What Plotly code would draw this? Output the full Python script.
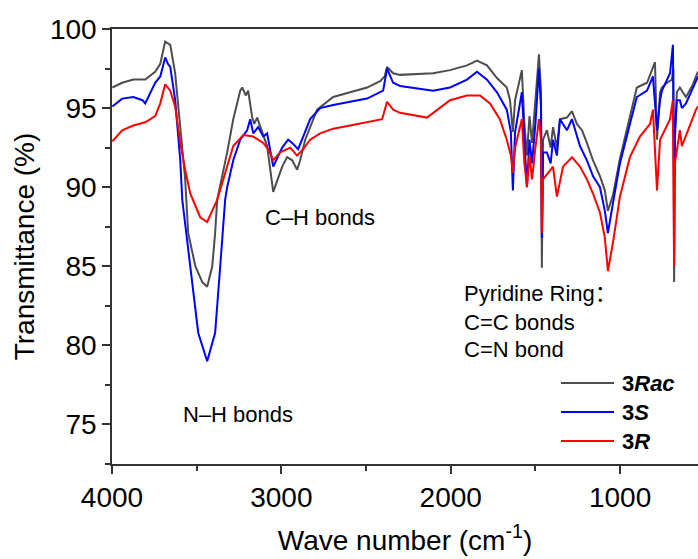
import plotly.graph_objects as go

# ---- data (wavenumber cm-1, transmittance %) ----
rac_wn = [3998, 3940, 3874, 3804, 3745, 3715, 3686, 3656, 3627, 3597, 3568, 3550, 3508, 3467, 3438,
          3408, 3391, 3379, 3373, 3320, 3284, 3243, 3231, 3210, 3196, 3172, 3160, 3143, 3130, 3084,
          3048, 2995, 2966, 2936, 2907, 2889, 2859, 2789, 2694, 2594, 2494, 2417, 2390, 2376, 2340,
          2299, 2104, 2004, 1904, 1845, 1786, 1727, 1669, 1650, 1633, 1620, 1580, 1565, 1550, 1535,
          1520, 1500, 1479, 1467, 1462, 1455, 1432, 1410, 1396, 1373, 1355, 1314, 1284, 1255, 1225,
          1196, 1160, 1119, 1090, 1072, 1042, 1001, 942, 901, 841, 794, 782, 764, 753, 723, 694, 686,
          681, 676, 665, 647, 611, 570, 552, 540]
rac_t = [96.3, 96.6, 96.8, 96.8, 97.3, 97.8, 99.2, 99.0, 97.2, 93.8, 90.5, 87.1, 85.0, 84.0, 83.7,
         85.0, 87.1, 89.2, 89.5, 92.2, 94.3, 96.1, 96.3, 95.8, 96.1, 94.4, 94.0, 94.4, 94.0, 92.6,
         89.7, 91.3, 91.9, 91.7, 91.1, 91.7, 93.0, 94.9, 95.7, 96.0, 96.3, 96.7, 97.0, 97.6, 97.2,
         97.1, 97.2, 97.4, 97.7, 98.0, 97.7, 96.9, 96.3, 95.5, 93.5, 95.5, 97.4, 94.0, 92.0, 94.5,
         92.8, 95.5, 98.4, 96.0, 84.9, 93.0, 93.6, 92.5, 93.8, 92.5, 94.3, 94.4, 94.8, 94.0, 93.6,
         92.8, 91.7, 90.7, 89.8, 88.5, 89.5, 91.8, 94.4, 96.3, 96.6, 97.9, 93.0, 96.0, 96.3, 96.6, 96.8, 97.5,
         84.0, 93.0, 96.0, 96.3, 95.7, 96.5, 97.0, 97.3]

s_wn = [3998, 3940, 3874, 3820, 3804, 3790, 3745, 3715, 3686, 3670, 3656, 3627, 3597, 3585, 3538,
        3491, 3438, 3391, 3361, 3332, 3320, 3284, 3243, 3202, 3184, 3166, 3137, 3107, 3084, 3048,
        2995, 2960, 2936, 2901, 2871, 2830, 2771, 2694, 2594, 2494, 2399, 2376, 2340, 2299, 2104,
        2004, 1904, 1845, 1786, 1727, 1669, 1645, 1633, 1620, 1580, 1565, 1550, 1535, 1520, 1500,
        1479, 1467, 1462, 1455, 1432, 1410, 1396, 1373, 1355, 1314, 1284, 1237, 1196, 1160, 1119,
        1090, 1072, 1042, 1001, 942, 901, 841, 806, 782, 764, 753, 705, 688, 681, 676, 665, 647,
        635, 611, 570, 552, 540]
s_t = [95.1, 95.6, 95.7, 95.5, 95.3, 95.6, 96.6, 97.0, 98.2, 97.8, 97.6, 95.5, 91.7, 89.2, 85.0,
       80.8, 79.0, 80.8, 85.0, 89.2, 90.0, 91.7, 93.0, 93.6, 94.3, 93.4, 93.8, 93.2, 93.4, 91.3,
       92.5, 93.0, 92.8, 92.4, 93.2, 94.3, 95.0, 95.2, 95.4, 95.6, 96.1, 97.5, 96.6, 96.4, 96.1,
       96.3, 96.8, 97.3, 96.8, 96.0, 94.9, 93.5, 89.8, 93.5, 96.0, 92.5, 90.0, 93.0, 91.5, 94.0,
       97.5, 95.0, 86.8, 92.2, 92.2, 91.5, 93.0, 92.0, 94.3, 93.6, 94.3, 92.6, 91.7, 90.7, 90.0,
       88.5, 87.1, 89.0, 91.5, 94.0, 95.7, 96.1, 97.0, 93.6, 95.5, 96.1, 97.2, 99.0, 90.0, 93.5,
       95.5, 95.5, 95.0, 95.3, 96.3, 96.8, 97.0]

r_wn = [3998, 3940, 3874, 3804, 3745, 3715, 3686, 3656, 3627, 3597, 3568, 3538, 3479, 3438, 3379,
        3320, 3284, 3225, 3166, 3107, 3078, 3048, 3007, 2948, 2907, 2871, 2830, 2771, 2694, 2594,
        2494, 2405, 2376, 2340, 2299, 2140, 2004, 1904, 1827, 1768, 1710, 1669, 1645, 1633, 1620,
        1580, 1565, 1550, 1535, 1520, 1500, 1479, 1467, 1462, 1455, 1432, 1396, 1373, 1337, 1284,
        1237, 1196, 1160, 1119, 1090, 1072, 1042, 1001, 942, 883, 823, 806, 782, 764, 705, 688,
        681, 676, 647, 635, 552, 540]
r_t = [92.9, 93.6, 93.9, 94.1, 94.5, 95.3, 96.5, 96.1, 95.1, 92.8, 91.1, 89.6, 88.1, 87.8, 89.2,
       91.3, 92.6, 93.3, 93.2, 92.8, 92.4, 91.7, 92.2, 92.5, 92.0, 92.4, 93.0, 93.4, 93.7, 93.9,
       94.1, 94.3, 95.4, 94.9, 94.7, 94.4, 95.5, 95.8, 95.8, 95.3, 94.3, 93.0, 92.0, 90.9, 92.5,
       94.3, 91.5, 90.0, 92.0, 90.5, 92.5, 94.3, 93.0, 87.1, 90.5, 90.8, 91.3, 89.4, 91.3, 91.9,
       91.3, 90.5, 89.6, 88.4, 86.8, 84.7, 86.5, 89.4, 91.9, 93.2, 94.0, 94.9, 89.8, 93.0, 94.3, 95.5,
       85.0, 91.5, 93.6, 92.6, 94.9, 95.1]

series_names = ["3Rac", "3S", "3R"]
series_labels = ["<b>3<i>Rac</i></b>", "<b>3<i>S</i></b>", "<b>3<i>R</i></b>"]
series_colors = ["#4d4d4d", "#0000ff", "#ff0000"]

x_ticks = [4000, 3000, 2000, 1000]
y_ticks = [75, 80, 85, 90, 95, 100]

FONT = "Liberation Sans, Arial, sans-serif"
FONT_CJK = "Liberation Sans, Noto Sans CJK SC, sans-serif"

fig = go.Figure()
for wn, t, name, col in zip([rac_wn, s_wn, r_wn], [rac_t, s_t, r_t], series_names, series_colors):
    fig.add_trace(go.Scatter(x=wn, y=t, mode="lines", name=name,
                             line=dict(color=col, width=2), showlegend=False))

# manual legend (layout decoration)
L, R_, T, B = 112, 698, 29, 464
W, H = R_ - L, B - T
def px(x): return (x - L) / W
def py(y): return (B - y) / H

for i, (lab, col) in enumerate(zip(series_labels, series_colors)):
    yy = [383, 412, 441][i]
    fig.add_shape(type="line", xref="paper", yref="paper", x0=px(561), x1=px(614),
                  y0=py(yy), y1=py(yy), line=dict(color=col, width=2))
    fig.add_annotation(xref="paper", yref="paper", x=px(620), y=py(yy), text=lab,
                       showarrow=False, xanchor="left", yanchor="middle",
                       font=dict(family=FONT, size=22, color="black"))

notes = [("C\u2013H bonds", 263, 217), ("N\u2013H bonds", 181, 414),
         ("Pyridine Ring\uff1a", 462, 293), ("C=C bonds", 462, 322), ("C=N bond", 462, 350)]
for txt, xx, yy in notes:
    fig.add_annotation(xref="paper", yref="paper", x=px(xx), y=py(yy), text=txt,
                       showarrow=False, xanchor="left", yanchor="middle",
                       font=dict(family=FONT_CJK, size=22, color="black"))

axis_common = dict(showline=True, linecolor="#333333", linewidth=1.5, ticks="outside",
                   ticklen=8, tickwidth=1.5, tickcolor="#333333", showgrid=False, zeroline=False,
                   automargin=False,
                   tickfont=dict(family=FONT, size=28, color="black"))

fig.update_layout(
    width=698, height=559,
    margin=dict(l=L, r=0, t=T, b=559 - B),
    plot_bgcolor="white", paper_bgcolor="white",
    font=dict(family=FONT, color="black"),
    xaxis=dict(range=[4000, 540], tickvals=x_ticks, ticktext=[str(v) for v in x_ticks],
               mirror=True,
               minor=dict(dtick=500, tick0=0, ticks="outside", ticklen=5, tickcolor="#333333", tickwidth=1.5),
               title=dict(text="Wave number (cm<sup>-1</sup>)", font=dict(family=FONT, size=28), standoff=18),
               **axis_common),
    yaxis=dict(range=[72.5, 100], tickvals=y_ticks, ticktext=[str(v) for v in y_ticks],
               minor=dict(dtick=2.5, tick0=0, ticks="outside", ticklen=5, tickcolor="#333333", tickwidth=1.5),
               title=dict(text="Transmittance (%)", font=dict(family=FONT, size=28), standoff=7),
               **axis_common),
)

fig.write_html("out.html", config={"displayModeBar": False},
               post_script="document.body.style.margin='0';document.body.style.overflow='hidden';")
